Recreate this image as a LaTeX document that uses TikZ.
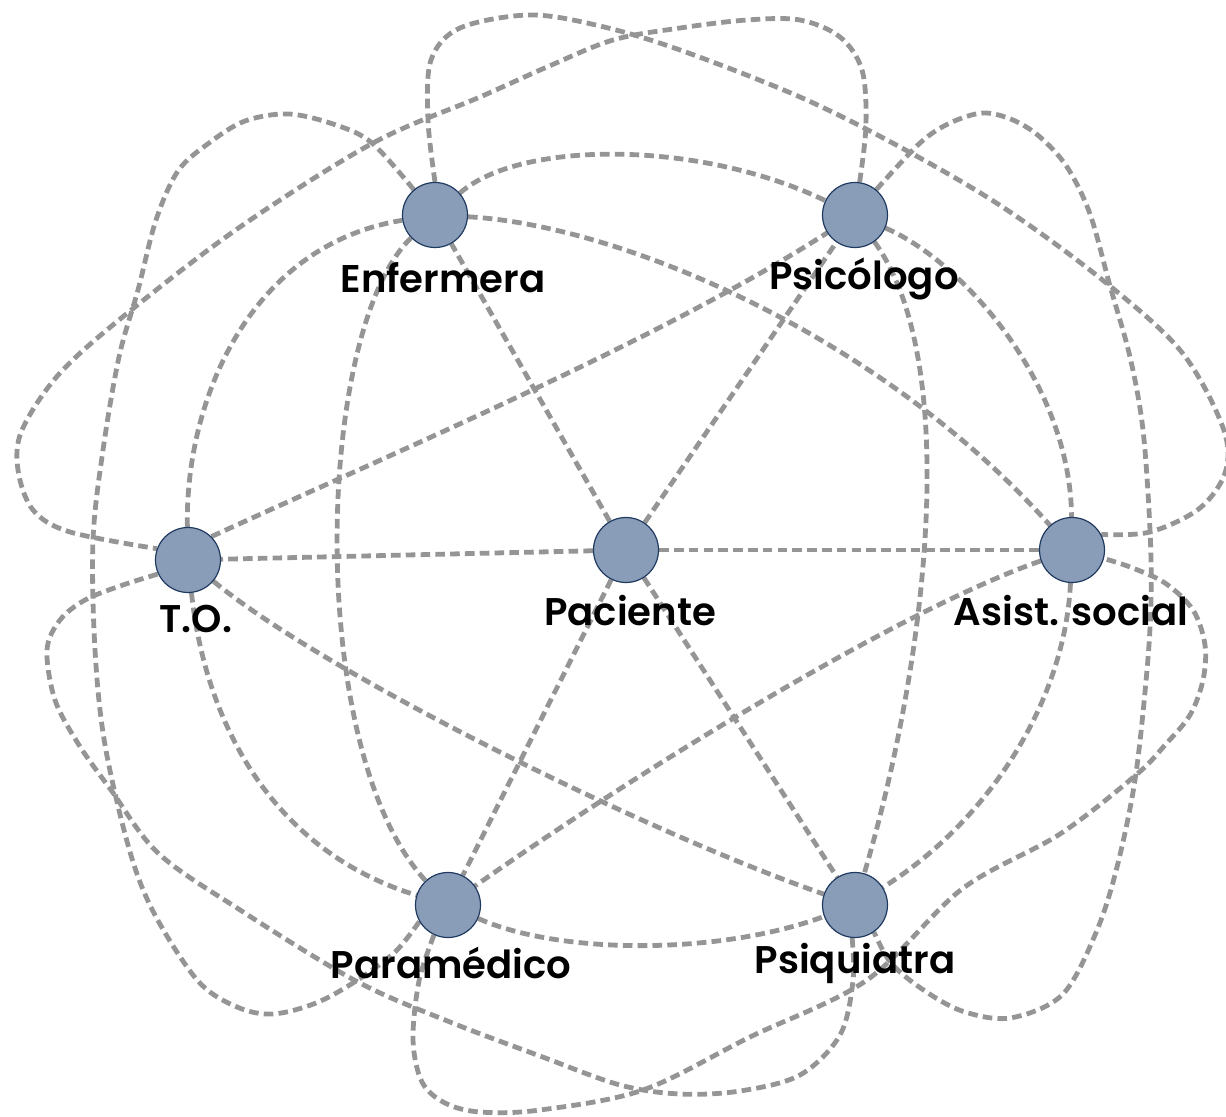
\documentclass[tikz,border=0pt]{standalone}
\usepackage{fontspec}
\IfFontExistsTF{Poppins SemiBold}{\newfontfamily\labfont{Poppins SemiBold}}{\newfontfamily\labfont{Poppins}[UprightFont=*,BoldFont=*]}
\definecolor{linkgray}{HTML}{959595}
\definecolor{nodefill}{HTML}{8A9DB8}
\definecolor{nodeedge}{HTML}{1F3A60}
\pgfdeclarelayer{bg}
\pgfsetlayers{bg,main}
\tikzset{
  link/.style={draw=linkgray, line width=2.4pt, dash pattern=on 4.8pt off 2.6pt},
  member/.style={circle, fill=nodefill, draw=nodeedge, line width=0.6pt, minimum size=32.5pt, inner sep=0pt},
  lab/.style={anchor=base, font=\labfont\fontsize{19.3}{23}\selectfont, text=black, inner sep=0pt},
  loop/.style={link, smooth, tension=0.55}
}
\begin{document}
\begin{tikzpicture}[x=0.5pt,y=-0.5pt]
\useasboundingbox (0,0) rectangle (1226,1117);
% nodes
\node[member] (E)  at (435,215) {};
\node[member] (Ps) at (855,215) {};
\node[member] (T)  at (188,560) {};
\node[member] (P)  at (626,550) {};
\node[member] (A)  at (1072,550) {};
\node[member] (Pm) at (448,905) {};
\node[member] (Pq) at (855,905) {};
% labels
\node[lab] (lE)  at (443,293) {Enfermera};
\node[lab] (lPs) at (864,290) {Psicólogo};
\node[lab] (lT)  at (196,632) {T.O.};
\node[lab] (lP)  at (630,625) {Paciente};
\node[lab] (lA)  at (1071,625) {Asist. social};
\node[lab] (lPm) at (451,978) {Paramédico};
\node[lab] (lPq) at (855,973) {Psiquiatra};
\begin{pgfonlayer}{bg}
% spokes
\draw[link] (P) -- (E);
\draw[link] (P) -- (Ps);
\draw[link] (P) -- (T);
\draw[link] (P) -- (A);
\draw[link] (P) -- (Pm);
\draw[link] (P) -- (Pq);
% neighbour arcs
\draw[link] (E) .. controls (520,140) and (700,140) .. (Ps);
\draw[link] (Ps) .. controls (960,260) and (1070,380) .. (A);
\draw[link] (A) .. controls (1065,700) and (990,820) .. (Pq);
\draw[link] (Pm) .. controls (560,955) and (720,955) .. (Pq);
\draw[link] (T) .. controls (205,720) and (270,850) .. (Pm);
\draw[link] (T) .. controls (185,400) and (250,245) .. (E);
% inner arcs
\draw[link] (E) .. controls (620,225) and (880,335) .. (A);
\draw[link] (Ps) .. controls (960,360) and (930,650) .. (Pq);
\draw[link] (A) .. controls (900,610) and (640,770) .. (Pm);
\draw[link] (T) .. controls (320,670) and (640,830) .. (Pq);
\draw[link] (E) .. controls (315,330) and (305,750) .. (Pm);
\draw[link] (T.45) .. controls (400,450) and (660,340) .. (Ps);
% outer loops
\draw[loop] plot coordinates {(E.90) (428,120) (431,60) (460,28) (530,15) (600,26) (680,50) (800,97) (900,147) (1001,206) (1100,278) (1180,350) (1222,425) (1226,470) (1200,508) (1150,532) (A.28)};
\draw[loop] plot coordinates {(Ps.82) (866,125) (862,70) (840,37) (800,20) (747,20) (680,28) (613,40) (547,67) (480,97) (373,143) (240,227) (130,311) (60,373) (22,430) (18,470) (33,510) (70,532) (T.160)};
\draw[loop] plot coordinates {(E.130) (372,143) (336,125) (289,114) (245,121) (209,143) (178,171) (156,220) (138,290) (119,357) (103,450) (93,540) (95,650) (105,745) (130,852) (155,915) (198,981) (237,1007) (273,1014) (316,1003) (356,981) (395,952) (Pm.210)};
\draw[loop] plot coordinates {(Ps.50) (920,143) (950,123) (983,113) (1013,120) (1040,137) (1067,167) (1090,214) (1110,286) (1130,357) (1143,430) (1150,530) (1151,600) (1147,670) (1135,780) (1116,871) (1095,935) (1062,995) (1010,1018) (962,1011) (922,989) (891,963) (Pq.-55)};
\draw[loop] plot coordinates {(Pm.245) (419,981) (413,1040) (422,1082) (445,1103) (480,1112) (540,1110) (643,1090) (750,1037) (867,980) (962,889) (1060,834) (1136,775) (1165,745) (1190,715) (1203,680) (1205,645) (1193,610) (1165,583) (1130,567) (A.-15)};
\draw[loop] plot coordinates {(Pq.-95) (853,981) (840,1035) (800,1075) (740,1091) (680,1094) (620,1085) (540,1056) (450,1022) (356,981) (237,908) (158,853) (111,790) (79,745) (55,700) (47,650) (60,620) (85,600) (120,586) (T.205)};
\end{pgfonlayer}
\end{tikzpicture}
\end{document}
